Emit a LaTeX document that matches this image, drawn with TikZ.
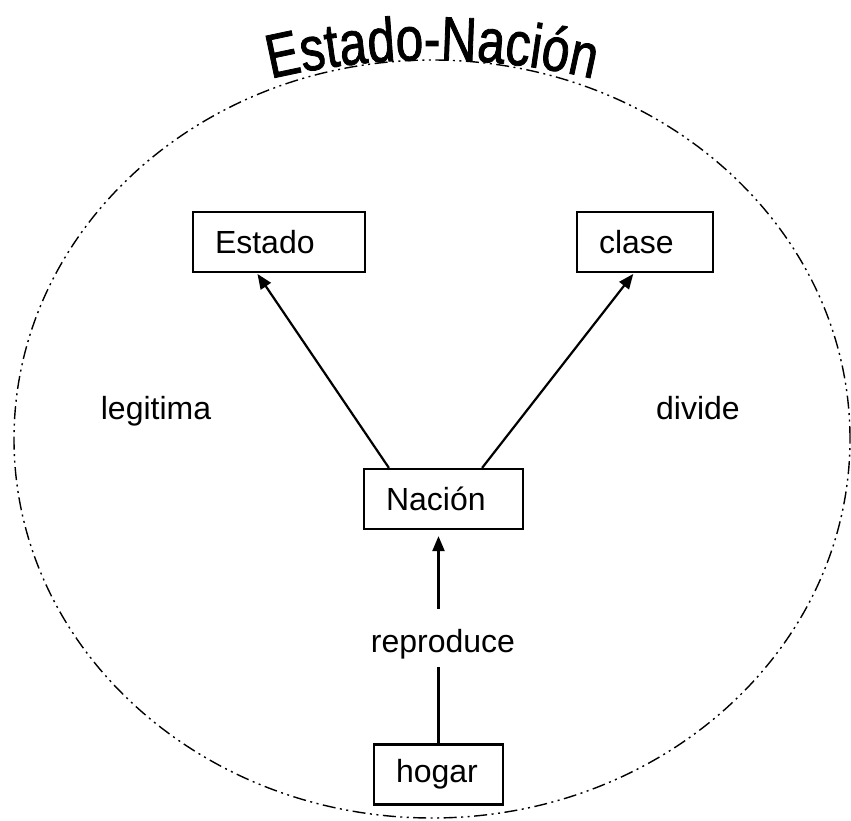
\documentclass[tikz,border=0pt]{standalone}
\usepackage{fontspec}
\setmainfont{Liberation Sans}
\newfontfamily\titlefont[FakeStretch=0.8, FakeBold=1.3]{Liberation Sans}
\usetikzlibrary{arrows.meta,decorations.text}
\begin{document}
\begin{tikzpicture}[x=1pt,y=1pt,
  box/.style={draw, line width=2.2pt, inner xsep=22pt, inner ysep=0pt, align=left, minimum height=60pt, font=\fontsize{32}{38}\selectfont},
  lbl/.style={inner sep=0pt, font=\fontsize{32}{38}\selectfont},
  conn/.style={line width=2.2pt},
  arr/.style={line width=2.2pt, -{Triangle[length=15pt,width=12pt]}},
  rim/.style={line width=1.4pt, dash pattern=on 13pt off 4.5pt on 2pt off 4.5pt on 2pt off 4.5pt}
]
\useasboundingbox (0,0) rectangle (851,820);
% outer dash-dot-dot ellipse
\draw[rim] (432,381) ellipse [x radius=418, y radius=379];
% curved title
\coordinate (tc) at (432,60);
\path[decorate, decoration={text along path, text align=center,
  text format delimiters={|}{|},
  text={|\titlefont\fontsize{62}{70}\selectfont|Estado-Nación}}]
  (tc) ++(110:700) arc[start angle=110, end angle=70, radius=700];
% boxes
\node[box, text width=128pt] (estado) at (279,578) {Estado};
\node[box, text width=92pt] (clase) at (645,578) {clase};
\node[box, text width=115pt] (nacion) at (443.5,321) {Nación};
\node[box, text width=85pt] (hogar) at (438.5,45.5) {hogar};
% labels
\node[lbl, anchor=base] (legitima) at (156,400) {legitima};
\node[lbl, anchor=base] (divide) at (698,400) {divide};
\node[lbl, anchor=base] (repro) at (443,168) {reproduce};
% connectors
\draw[arr, shorten >=1pt] ([xshift=26pt]nacion.north west) -- ([xshift=65pt]estado.south west);
\draw[arr, shorten >=1pt] ([xshift=-42pt]nacion.north east) -- ([xshift=58pt]clase.south west);
\draw[conn, shorten >=8pt] (hogar.north) -- (hogar.north |- repro.south);
\draw[arr, shorten <=20pt, shorten >=6pt] (hogar.north |- repro.north) -- (hogar.north |- nacion.south);
\end{tikzpicture}
\end{document}
